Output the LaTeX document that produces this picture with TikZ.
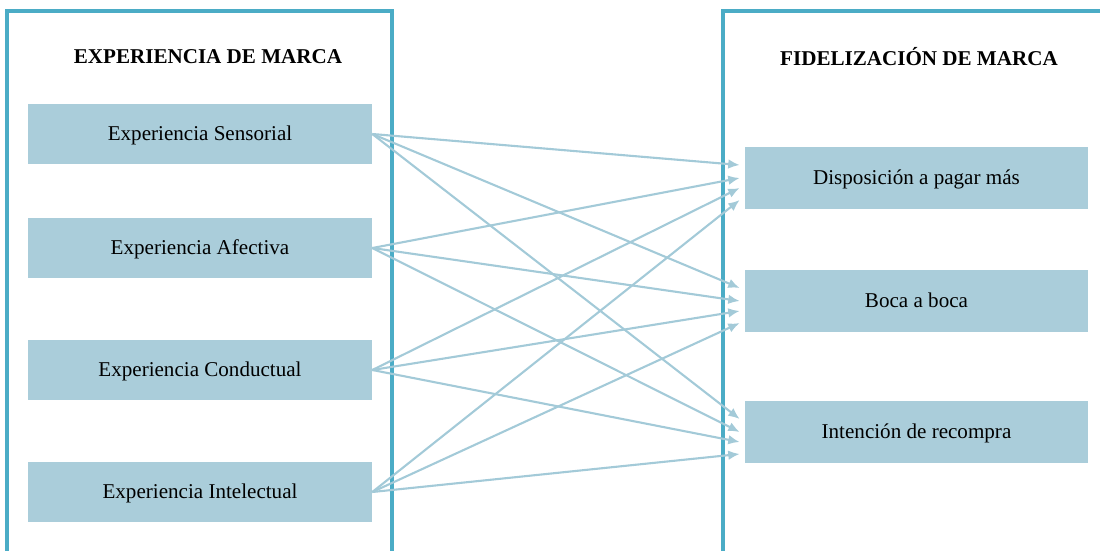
\documentclass[tikz,border=0pt]{standalone}
\usepackage{fontspec}
\setmainfont{Liberation Serif}
\usetikzlibrary{arrows.meta,calc}
\definecolor{marco}{RGB}{75,172,198}
\definecolor{caja}{RGB}{170,205,218}
\definecolor{flecha}{RGB}{163,202,216}
\tikzset{
  dimbox/.style={fill=caja, minimum width=6.88cm, minimum height=1.22cm, inner sep=0pt, text height=1.6ex, text depth=0pt, font=\fontsize{12}{14}\selectfont},
  fidbox/.style={dimbox, minimum width=6.86cm, minimum height=1.24cm},
  titulo/.style={font=\fontsize{12}{14}\selectfont\bfseries},
  enlace/.style={flecha, line width=1.2pt, -{Latex[length=6.5pt,width=5.5pt]}}
}

\begin{document}
\begin{tikzpicture}[x=0.02cm, y=-0.02cm]
			\useasboundingbox (0,0) rectangle (1100,551);
			\clip (0,0) rectangle (1100,551);
			% marcos
			\draw[marco, line width=2.2pt] (7,11) rectangle (392,560);
			\draw[marco, line width=2.2pt] (723,11) rectangle (1120,560);
			\node[titulo] (tizq) at (208,57) {EXPERIENCIA DE MARCA};
			\node[titulo] (tder) at (919,57) {FIDELIZACIÓN DE MARCA};
			
			% dimensiones de la experiencia
			\node[dimbox] (sens) at (200,134) {Experiencia Sensorial};
			\node[dimbox] (afec) at (200,248) {Experiencia Afectiva};
			\node[dimbox] (cond) at (200,370) {Experiencia Conductual};
			\node[dimbox] (inte) at (200,492) {Experiencia Intelectual};
			
			% dimensiones de la fidelizacion
			\node[fidbox] (disp) at (916.5,178) {Disposición a pagar más};
			\node[fidbox] (boca) at (916.5,301) {Boca a boca};
			\node[fidbox] (reco) at (916.5,432) {Intención de recompra};
			
			% puntos de llegada
			\foreach \dst in {disp,boca,reco}
				\foreach \k/\dy in {1/-13,2/0,3/10,4/22}
					\coordinate (\dst-\k) at ($(\dst.west)+(-5,\dy)$);
			
			% relaciones
			\foreach \src/\k in {sens/1,afec/2,cond/3,inte/4}
				\foreach \dst in {disp,boca,reco}
					\draw[enlace] (\src.east) -- (\dst-\k);
		\end{tikzpicture}
\end{document}
